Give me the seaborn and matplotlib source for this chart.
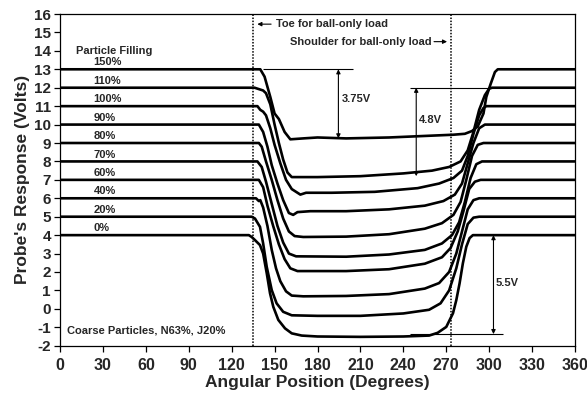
import numpy as np
import pandas as pd
import matplotlib
matplotlib.use("Agg")
import matplotlib.pyplot as plt
import seaborn as sns

# ---- data (angle in degrees, response in volts) ----
fillings = ["150%", "110%", "100%", "90%", "80%", "70%", "60%", "40%", "20%", "0%"]
baselines = [13, 12, 11, 10, 9, 8, 7, 6, 5, 4]

ang_150 = [0, 140, 143, 147, 150, 153, 157, 161, 170, 180, 200, 230, 260, 275, 283, 288, 292, 296, 298, 301, 304, 306, 360]
v_150 = [13, 13, 12.6, 11.5, 10.6, 10.3, 9.6, 9.2, 9.25, 9.3, 9.25, 9.3, 9.4, 9.45, 9.5, 9.65, 9.9, 10.6, 11.5, 12.2, 12.85, 13, 13]

ang_110 = [0, 136, 138, 142, 144, 147, 150, 153, 156, 159, 162, 180, 210, 240, 260, 272, 280, 285, 289, 293, 297, 300, 302, 360]
v_110 = [12, 12, 11.95, 11.85, 11.7, 11.1, 10.0, 9.0, 8.1, 7.4, 7.15, 7.15, 7.2, 7.35, 7.5, 7.7, 8.0, 8.6, 9.6, 10.8, 11.6, 11.95, 12, 12]

ang_100 = [0, 138, 140, 142, 144, 147, 150, 154, 158, 162, 165, 168, 172, 190, 220, 250, 265, 275, 281, 285, 289, 293, 296, 298, 360]
v_100 = [11, 11, 10.8, 10.7, 10.5, 9.8, 8.9, 7.9, 7.0, 6.5, 6.35, 6.2, 6.3, 6.3, 6.35, 6.55, 6.8, 7.1, 7.5, 8.3, 9.5, 10.5, 10.9, 11, 11]

ang_90 = [0, 139, 142, 145, 148, 152, 156, 160, 163, 166, 175, 200, 230, 255, 268, 276, 281, 285, 289, 293, 297, 360]
v_90 = [10, 10, 9.6, 8.8, 7.8, 6.8, 5.9, 5.2, 5.1, 5.25, 5.3, 5.3, 5.4, 5.6, 5.85, 6.2, 6.8, 7.9, 9.0, 9.8, 10, 10]

ang_80 = [0, 139, 141, 144, 148, 152, 156, 160, 164, 170, 200, 230, 255, 267, 275, 280, 284, 288, 292, 296, 360]
v_80 = [9, 9, 8.8, 8.0, 7.0, 5.9, 4.9, 4.2, 3.95, 3.9, 3.92, 4.05, 4.35, 4.65, 5.1, 5.8, 7.0, 8.3, 8.9, 9, 9]

ang_70 = [0, 138, 141, 144, 148, 152, 156, 160, 165, 200, 230, 255, 267, 274, 279, 283, 287, 291, 295, 360]
v_70 = [8, 8, 7.7, 6.9, 5.7, 4.5, 3.6, 3.0, 2.85, 2.83, 2.95, 3.2, 3.55, 4.0, 4.7, 5.8, 7.1, 7.85, 8, 8]

ang_60 = [0, 139, 142, 145, 149, 153, 157, 161, 166, 200, 230, 255, 267, 273, 278, 282, 286, 290, 294, 360]
v_60 = [7, 7, 6.6, 5.6, 4.5, 3.5, 2.7, 2.2, 2.05, 2.05, 2.15, 2.45, 2.8, 3.3, 4.2, 5.3, 6.5, 6.9, 7, 7]

ang_40 = [0, 137, 139, 140, 142, 145, 148, 151, 154, 158, 162, 170, 200, 230, 255, 265, 272, 277, 281, 285, 289, 293, 360]
v_40 = [6, 6, 5.85, 5.9, 5.5, 4.5, 3.2, 2.2, 1.5, 0.95, 0.72, 0.68, 0.7, 0.8, 1.1, 1.4, 2.0, 3.0, 4.2, 5.4, 5.9, 6, 6]

ang_20 = [0, 134, 136.3, 139.8, 142, 144.5, 148, 151.4, 156, 162, 180, 210, 240, 258, 266, 272, 277, 281, 285, 289, 293, 360]
v_20 = [5, 5, 4.9, 4.45, 3.55, 2.28, 1.02, 0.3, -0.16, -0.35, -0.38, -0.38, -0.25, -0.05, 0.3, 1.0, 2.2, 3.5, 4.6, 4.95, 5, 5]

ang_0 = [0, 132, 134, 136.3, 139.8, 142, 144.5, 146.8, 149.1, 152.6, 157.3, 162, 169, 180, 210, 240, 258, 264, 270, 274.7, 277, 279.3, 281.6, 284, 286.3, 288.6, 360]
v_0 = [4, 4, 3.9, 3.73, 3.46, 3.0, 1.94, 0.85, 0.11, -0.6, -1.06, -1.33, -1.45, -1.5, -1.52, -1.5, -1.45, -1.3, -0.98, -0.24, 0.47, 1.38, 2.47, 3.37, 3.84, 4.0, 4.0]

angles = [ang_150, ang_110, ang_100, ang_90, ang_80, ang_70, ang_60, ang_40, ang_20, ang_0]
volts = [v_150, v_110, v_100, v_90, v_80, v_70, v_60, v_40, v_20, v_0]

x_ticks = list(range(0, 361, 30))
y_ticks = list(range(-2, 17, 1))

toe_angle = 135
shoulder_angle = 273.5

# ---- build long-form table ----
rows = []
for name, a, v in zip(fillings, angles, volts):
    for ai, vi in zip(a, v):
        rows.append({"filling": name, "angle": ai, "volts": vi})
df = pd.DataFrame(rows)

sns.set_theme(style="ticks")
plt.rcParams["font.family"] = ["Liberation Sans", "DejaVu Sans"]
plt.rcParams["font.weight"] = "bold"

fig = plt.figure(figsize=(5.87, 4.05), dpi=100)
ax = fig.add_axes([0.1022, 0.1464, 0.9796 - 0.1022, 0.9654 - 0.1464])

sns.lineplot(data=df, x="angle", y="volts", hue="filling", units="filling",
             estimator=None, sort=False, palette={f: "black" for f in fillings},
             linewidth=1.9, legend=False, ax=ax)

ax.set_xlim(0, 360)
ax.set_ylim(-2, 16)
ax.set_xticks(x_ticks)
ax.set_yticks(y_ticks)
ax.set_xticklabels([str(t) for t in x_ticks], fontsize=11.5, fontweight="bold")
ax.set_yticklabels([str(t) for t in y_ticks], fontsize=11, fontweight="bold")
ax.tick_params(axis="both", direction="out", length=4.5, width=0.9, color="black", pad=2)
ax.tick_params(axis="x", pad=4)
for s in ax.spines.values():
    s.set_visible(True)
    s.set_color("black")
    s.set_linewidth(0.9)

ax.set_xlabel("Angular Position (Degrees)", fontsize=12.5, fontweight="bold", labelpad=2)
ax.set_ylabel("Probe's Response (Volts)", fontsize=12.5, fontweight="bold", labelpad=3)

# dotted reference lines
ax.axvline(toe_angle, color="black", linestyle=(0, (1, 1.0)), linewidth=1.1)
ax.axvline(shoulder_angle, color="black", linestyle=(0, (1, 1.0)), linewidth=1.1)

# labels for fillings
for name, b in zip(fillings, baselines):
    ax.text(23.5, b + 0.1, name, fontsize=8, fontweight="bold", ha="left", va="bottom")
ax.text(11, 14.0, "Particle Filling", fontsize=8, fontweight="bold", ha="left", va="center")
ax.text(4.7, -1.2, "Coarse Particles, N63%, J20%", fontsize=8, fontweight="bold", ha="left", va="center")

# toe / shoulder annotations
ax.text(151.0, 15.45, "Toe for ball-only load", fontsize=8, fontweight="bold", ha="left", va="center")
ax.annotate("", xy=(136.0, 15.45), xytext=(149.5, 15.45),
            arrowprops=dict(arrowstyle="-|>", color="black", lw=0.8, mutation_scale=6))
ax.text(160.5, 14.5, "Shoulder for ball-only load", fontsize=8, fontweight="bold", ha="left", va="center")
ax.annotate("", xy=(272.5, 14.5), xytext=(259.5, 14.5),
            arrowprops=dict(arrowstyle="-|>", color="black", lw=0.8, mutation_scale=6))

# drop measurements
ax.hlines(13, 142, 205, color="black", lw=0.8)
ax.annotate("", xy=(194.6, 9.25), xytext=(194.6, 13),
            arrowprops=dict(arrowstyle="<|-|>", color="black", lw=0.8, mutation_scale=6, shrinkA=0, shrinkB=0))
ax.text(197, 11.4, "3.75V", fontsize=8, fontweight="bold", ha="left", va="center")

ax.hlines(12, 244.6, 301, color="black", lw=0.8)
ax.annotate("", xy=(249, 7.2), xytext=(249, 12),
            arrowprops=dict(arrowstyle="<|-|>", color="black", lw=0.8, mutation_scale=6, shrinkA=0, shrinkB=0))
ax.text(251, 10.25, "4.8V", fontsize=8, fontweight="bold", ha="left", va="center")

ax.hlines(-1.37, 244.6, 310, color="black", lw=0.8)
ax.annotate("", xy=(303, -1.37), xytext=(303, 4),
            arrowprops=dict(arrowstyle="<|-|>", color="black", lw=0.8, mutation_scale=6, shrinkA=0, shrinkB=0))
ax.text(304.5, 1.4, "5.5V", fontsize=8, fontweight="bold", ha="left", va="center")

fig.savefig("out.png", dpi=100, facecolor="white")
